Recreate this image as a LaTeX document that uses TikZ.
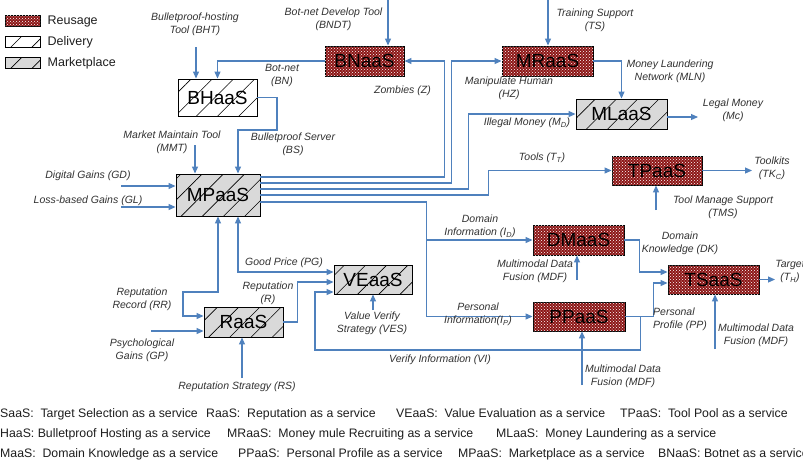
\documentclass[tikz,border=0pt]{standalone}
\usepackage{fontspec}
\setmainfont{Liberation Sans}
\usetikzlibrary{arrows.meta,patterns,patterns.meta,positioning}
\definecolor{reusered}{RGB}{140,22,22}
\definecolor{marketgray}{RGB}{217,217,217}
\definecolor{flowblue}{RGB}{79,129,189}
\definecolor{labelgray}{RGB}{50,50,50}
\definecolor{keygray}{RGB}{30,30,30}

\begin{document}
\begin{tikzpicture}[x=1pt, y=-1pt,
  box/.style={draw=black, line width=0.9pt, inner sep=0pt, font=\fontsize{19}{19}\selectfont},
  reuse/.style={box, fill=reusered, postaction={pattern=crosshatch dots, pattern color=white}},
  deliver/.style={box, fill=white, postaction={pattern={Lines[angle=45,distance=15pt,line width=0.6pt]}}},
  market/.style={box, fill=marketgray, postaction={pattern={Lines[angle=45,distance=15pt,line width=0.6pt]}}},
  lbl/.style={font=\itshape\fontsize{10.5}{13}\selectfont, align=center, text=labelgray, inner sep=0pt},
  flow/.style={draw=flowblue, line width=1.1pt, -{Triangle[length=7pt,width=6pt]}},
  flowboth/.style={flow, {Triangle[length=7pt,width=6pt]}-{Triangle[length=7pt,width=6pt]}},
  legtext/.style={font=\fontsize{12.5}{14}\selectfont, text=keygray, inner sep=0pt},
  key/.style={font=\fontsize{12.3}{14}\selectfont, text=keygray, anchor=base west, inner sep=0pt}]
\path[use as bounding box, fill=white] (0,0) rectangle (803,461);
\clip (0,0) rectangle (803,461);

\node (lgreuse) at (22.5,21) [reuse, minimum width=35pt, minimum height=11pt] {};
\node (lgdeliver) at (22.5,42) [deliver, minimum width=35pt, minimum height=11pt] {};
\node (lgmarket) at (22.5,63) [market, minimum width=35pt, minimum height=11pt] {};
\node (lgreusetxt) [legtext, right=7pt of lgreuse] {Reusage};
\node (lgdelivertxt) [legtext, right=7pt of lgdeliver] {Delivery};
\node (lgmarkettxt) [legtext, right=7pt of lgmarket] {Marketplace};

\node (bhaas) at (217.5,97.5) [deliver, minimum width=79pt, minimum height=37pt] {BHaaS};
\node (bnaas) at (364.5,61) [reuse, minimum width=79pt, minimum height=30pt] {BNaaS};
\node (mraas) at (547.5,61) [reuse, minimum width=91pt, minimum height=30pt] {MRaaS};
\node (mlaas) at (621.5,114) [market, minimum width=91pt, minimum height=30pt] {MLaaS};
\node (mpaas) at (218,195) [market, minimum width=84pt, minimum height=42pt] {MPaaS};
\node (tpaas) at (657,170.5) [reuse, minimum width=90pt, minimum height=29pt] {TPaaS};
\node (dmaas) at (578.5,240) [reuse, minimum width=91pt, minimum height=30pt] {DMaaS};
\node (tsaas) at (713.5,279.5) [reuse, minimum width=91pt, minimum height=29pt] {TSaaS};
\node (ppaas) at (579,316.5) [reuse, minimum width=92pt, minimum height=29pt] {PPaaS};
\node (veaas) at (373,279.5) [market, minimum width=78pt, minimum height=29pt] {VEaaS};
\node (raas) at (243.5,322) [market, minimum width=79pt, minimum height=30pt] {RaaS};

\coordinate (bhtin) at (196,47);
\coordinate (bndtin) at (388,0);
\coordinate (tsin) at (548,0);
\coordinate (mmtin) at (195,145);
\coordinate (bsbend) at (277,130);
\coordinate (gdin) at (121,186);
\coordinate (glin) at (121,207);
\coordinate (rrbend) at (183,292);
\coordinate (gpin) at (151,331);
\coordinate (rsin) at (242,378);
\coordinate (vesin) at (373,310);
\coordinate (vibend) at (315,350);
\coordinate (mdfdin) at (577,280);
\coordinate (mdfpin) at (582,385);
\coordinate (mdftin) at (715,349);
\coordinate (tmsin) at (656,210);
\coordinate (lmout) at (698,117);
\coordinate (tkout) at (752,170.5);
\coordinate (tgtout) at (775,279.5);

\draw[flow] (bhtin) -- (bhtin |- bhaas.north);
\draw[flow] (bnaas.west) -| (bhaas.north);
\draw[flow] (bndtin) -- (bndtin |- bnaas.north);
\draw[flow] (bhaas.east) -| (bsbend) -| ([xshift=20pt]mpaas.north);
\draw[flow] (mmtin) -- (mmtin |- mpaas.north);
\draw[flow] (gdin) -- (gdin -| mpaas.west);
\draw[flow] (glin) -- (glin -| mpaas.west);

\draw[flow] ([yshift=18pt]mpaas.east) -| ([xshift=40pt]bnaas.east) -- (bnaas.east);
\draw[flow] ([yshift=12pt]mpaas.east) -| ([xshift=-50pt]mraas.west) -- (mraas.west);
\draw[flow] ([yshift=6pt]mpaas.east) -| ([xshift=-107pt]mlaas.west) -- (mlaas.west);
\draw[flow] (mpaas.east) -| ([xshift=-123pt]tpaas.west) -- (tpaas.west);
\draw[flow] ([yshift=-7pt]mpaas.east) -| ([xshift=-106pt]dmaas.west) -- (dmaas.west);
\draw[flow] ([xshift=-106pt]dmaas.west) |- (ppaas.west);

\draw[flow] (tsin) -- (tsin |- mraas.north);
\draw[flow] (mraas.east) -| (mlaas.north);
\draw[flow] ([yshift=-3pt]mlaas.east) -- (lmout);
\draw[flow] (tpaas.east) -- (tkout);
\draw[flow] (tmsin) -- (tmsin |- tpaas.south);

\draw[flowboth] (mpaas.south) |- (rrbend) |- ([yshift=6pt]raas.west);
\draw[flowboth] ([xshift=20pt]mpaas.south) |- ([yshift=7.5pt]veaas.west);
\draw[flow] (gpin) -- (gpin -| raas.west);
\draw[flow] (rsin) -- (rsin |- raas.south);
\draw[flow] (raas.east) -| ([xshift=-36pt,yshift=-2.5pt]veaas.west) -- ([yshift=-2.5pt]veaas.west);
\draw[flow] (vesin) -- (vesin |- veaas.south);

\draw[flow] (dmaas.east) -| ([xshift=-28pt,yshift=7.5pt]tsaas.west) -- ([yshift=7.5pt]tsaas.west);
\draw[flow] (ppaas.east) -| ([xshift=-14pt,yshift=-3.5pt]tsaas.west) -- ([yshift=-3.5pt]tsaas.west);
\draw[flow] ([xshift=15pt]ppaas.east) |- (vibend) |- ([yshift=-12.5pt]veaas.west);
\draw[flow] (mdfdin) -- (mdfdin |- dmaas.south);
\draw[flow] (mdfpin) -- (mdfpin |- ppaas.south);
\draw[flow] (mdftin) -- (mdftin |- tsaas.south);
\draw[flow] (tsaas.east) -- (tgtout);

\node (bhtlbl) at (195,24.5) [lbl] {Bulletproof-hosting\\Tool (BHT)};
\node (bnlbl) at (282,75) [lbl] {Bot-net\\(BN)};
\node (bndtlbl) at (333.5,19.7) [lbl] {Bot-net Develop Tool\\(BNDT)};
\node (zlbl) at (402.5,91) [lbl] {Zombies (Z)};
\node (hzlbl) at (509,88.5) [lbl] {Manipulate Human\\(HZ)};
\node (mdlbl) at (527,123) [lbl] {Illegal Money (M\textsubscript{D})};
\node (tslbl) at (595,20) [lbl] {Training Support\\(TS)};
\node (mlnlbl) at (670,71.5) [lbl] {Money Laundering\\Network (MLN)};
\node (lmlbl) at (733,110) [lbl] {Legal Money\\(Mc)};
\node (mmtlbl) at (172,142.5) [lbl] {Market Maintain Tool\\(MMT)};
\node (bslbl) at (293,144) [lbl] {Bulletproof Server\\(BS)};
\node (gdlbl) at (88,176) [lbl] {Digital Gains (GD)};
\node (gllbl) at (88,201) [lbl] {Loss-based Gains (GL)};
\node (ttlbl) at (542,158) [lbl] {Tools (T\textsubscript{T})};
\node (tklbl) at (772,168.5) [lbl] {Toolkits\\(TK\textsubscript{C})};
\node (tmslbl) at (723,207.5) [lbl] {Tool Manage Support\\(TMS)};
\node (idlbl) at (480,226.5) [lbl] {Domain\\Information (I\textsubscript{D})};
\node (dklbl) at (680,243) [lbl] {Domain\\Knowledge (DK)};
\node (mdfdlbl) at (535,271.5) [lbl] {Multimodal Data\\Fusion (MDF)};
\node (tgtlbl) at (790,271.5) [lbl] {Target\\(T\textsubscript{H})};
\node (pglbl) at (284,263) [lbl] {Good Price (PG)};
\node (rlbl) at (268,293.5) [lbl] {Reputation\\(R)};
\node (rrlbl) at (142,299.5) [lbl] {Reputation\\Record (RR)};
\node (gplbl) at (142,350) [lbl] {Psychological\\Gains (GP)};
\node (rslbl) at (237,387) [lbl] {Reputation Strategy (RS)};
\node (veslbl) at (372,323) [lbl] {Value Verify\\Strategy (VES)};
\node (iplbl) at (478,314.5) [lbl] {Personal\\Information(I\textsubscript{P})};
\node (pplbl) at (653,319) [lbl, anchor=west, align=left] {Personal\\Profile (PP)};
\node (mdftlbl) at (756,335) [lbl] {Multimodal Data\\Fusion (MDF)};
\node (vilbl) at (440,360) [lbl] {Verify Information (VI)};
\node (mdfplbl) at (623,376.5) [lbl] {Multimodal Data\\Fusion (MDF)};

\node (keytsaas) at (-7.5,417) [key] {TSaaS:\ \ Target Selection as a service};
\node (keyraas) at (206,417) [key] {RaaS:\ \ Reputation as a service};
\node (keyveaas) at (396,417) [key] {VEaaS:\ \ Value Evaluation as a service};
\node (keytpaas) at (620,417) [key] {TPaaS:\ \ Tool Pool as a service};
\node (keybhaas) at (-8.2,437) [key] {BHaaS: Bulletproof Hosting as a service};
\node (keymraas) at (227,437) [key] {MRaaS:\ \ Money mule Recruiting as a service};
\node (keymlaas) at (496,437) [key] {MLaaS:\ \ Money Laundering as a service};
\node (keydmaas) at (-8.9,457) [key] {DMaaS:\ \ Domain Knowledge as a service};
\node (keyppaas) at (238,457) [key] {PPaaS:\ \ Personal Profile as a service};
\node (keympaas) at (458,457) [key] {MPaaS:\ \ Marketplace as a service};
\node (keybnaas) at (658,457) [key] {BNaaS: Botnet as a service};
\end{tikzpicture}
\end{document}
